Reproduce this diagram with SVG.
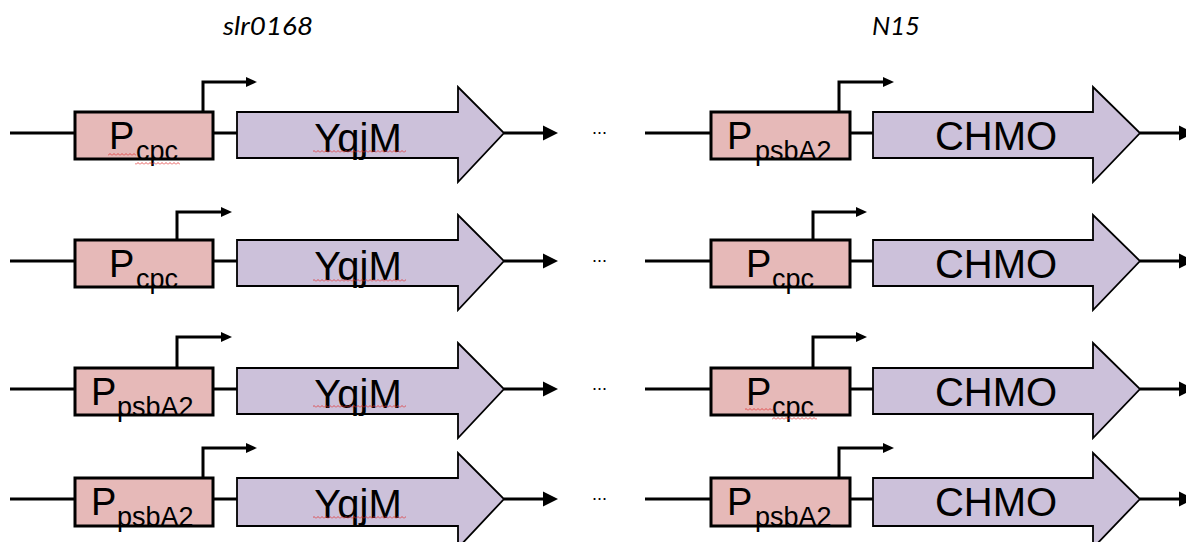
<svg xmlns="http://www.w3.org/2000/svg" width="1186" height="542" viewBox="0 0 1186 542">
<style>
.bb{stroke:#000;stroke-width:3;fill:none}
.pa{stroke:#000;stroke-width:3;fill:none;marker-end:url(#ah)}
.oa{stroke:#000;stroke-width:3;fill:none;marker-end:url(#big)}
.prom{fill:#e6b9b8;stroke:#000;stroke-width:3}
.gene{fill:#ccc1da;stroke:#000;stroke-width:1.8;stroke-linejoin:miter}
.P{font-family:"Liberation Sans",Arial,sans-serif;font-size:38px;fill:#000}
.sub{font-family:"Liberation Sans",Arial,sans-serif;font-size:27px;fill:#000}
.g{font-family:"Liberation Sans",Arial,sans-serif;font-size:40px;fill:#000;text-anchor:middle}
.t{font-family:Lato,"Open Sans",sans-serif;font-style:italic;font-size:26px;fill:#000}
.dots{font-family:"Liberation Sans",Arial,sans-serif;font-size:18px;fill:#000}
.sq{fill:url(#wave)}
</style>
<defs>
<marker id="ah" markerUnits="userSpaceOnUse" markerWidth="14" markerHeight="12" refX="1" refY="0" viewBox="0 -6 14 12" orient="auto"><path d="M0,-5 L11,0 L0,5 z" fill="#000"/></marker>
<marker id="big" markerUnits="userSpaceOnUse" markerWidth="18" markerHeight="18" refX="1" refY="0" viewBox="0 -9 18 18" orient="auto"><path d="M0,-7.5 L15,0 L0,7.5 z" fill="#000"/></marker>
<pattern id="wave" patternUnits="userSpaceOnUse" width="4" height="3"><path d="M0,2.5 L2,0.5 L4,2.5" stroke="#e03030" stroke-width="0.8" fill="none"/></pattern>
</defs>
<rect width="1186" height="542" fill="#fff"/>
<text class="t" x="223" y="35" textLength="90" lengthAdjust="spacingAndGlyphs">slr0168</text>
<text class="t" x="872" y="35" textLength="48" lengthAdjust="spacingAndGlyphs">N15</text>

<g id="connectors">
<!-- row 1 -->
<line class="bb" x1="10" y1="133" x2="75" y2="133"/><line class="bb" x1="213" y1="133" x2="237" y2="133"/>
<line class="oa" x1="504" y1="133" x2="544" y2="133"/>
<path class="pa" d="M203,112 V82 H247"/>
<line class="bb" x1="645" y1="133" x2="711" y2="133"/><line class="bb" x1="850" y1="133" x2="873" y2="133"/>
<line class="oa" x1="1140" y1="133" x2="1180" y2="133"/>
<path class="pa" d="M839,112 V82 H884"/>
<!-- row 2 -->
<line class="bb" x1="10" y1="261" x2="75" y2="261"/><line class="bb" x1="213" y1="261" x2="237" y2="261"/>
<line class="oa" x1="504" y1="261" x2="544" y2="261"/>
<path class="pa" d="M177,240 V212 H222"/>
<line class="bb" x1="645" y1="261" x2="711" y2="261"/><line class="bb" x1="850" y1="261" x2="873" y2="261"/>
<line class="oa" x1="1140" y1="261" x2="1180" y2="261"/>
<path class="pa" d="M813,240 V212 H857"/>
<!-- row 3 -->
<line class="bb" x1="10" y1="389" x2="75" y2="389"/><line class="bb" x1="213" y1="389" x2="237" y2="389"/>
<line class="oa" x1="504" y1="389" x2="544" y2="389"/>
<path class="pa" d="M177,368 V337 H222"/>
<line class="bb" x1="645" y1="389" x2="711" y2="389"/><line class="bb" x1="850" y1="389" x2="873" y2="389"/>
<line class="oa" x1="1140" y1="389" x2="1180" y2="389"/>
<path class="pa" d="M813,368 V337 H857"/>
<!-- row 4 -->
<line class="bb" x1="10" y1="499" x2="75" y2="499"/><line class="bb" x1="213" y1="499" x2="237" y2="499"/>
<line class="oa" x1="504" y1="499" x2="544" y2="499"/>
<path class="pa" d="M203,478 V448 H247"/>
<line class="bb" x1="645" y1="499" x2="711" y2="499"/><line class="bb" x1="850" y1="499" x2="873" y2="499"/>
<line class="oa" x1="1140" y1="499" x2="1180" y2="499"/>
<path class="pa" d="M839,478 V448 H884"/>
</g>

<!-- Row 1 -->
<g id="r1-prom-left"><rect class="prom" x="75" y="112" width="138" height="47"/><text class="P" x="109" y="149">P</text><text class="sub" x="136" y="160">cpc</text><rect class="sq" x="108" y="153" width="28" height="3"/><rect class="sq" x="135" y="162" width="45" height="3"/></g>
<g id="r1-gene-left"><polygon class="gene" points="237,112 458,112 458,87 504,133 458,182 458,158 237,158"/><text class="g" x="358" y="152">YqjM</text><rect class="sq" x="313" y="150" width="93" height="3"/></g>
<g id="r1-dots"><text class="dots" x="592" y="134">...</text></g>
<g id="r1-prom-right"><rect class="prom" x="711" y="112" width="139" height="47"/><text class="P" x="727" y="149">P</text><text class="sub" x="755" y="160">psbA2</text></g>
<g id="r1-gene-right"><polygon class="gene" points="873,112 1093,112 1093,87 1140,133 1093,182 1093,158 873,158"/><text class="g" x="996" y="150">CHMO</text></g>

<!-- Row 2 -->
<g id="r2-prom-left"><rect class="prom" x="75" y="240" width="138" height="47"/><text class="P" x="109" y="277">P</text><text class="sub" x="136" y="288">cpc</text></g>
<g id="r2-gene-left"><polygon class="gene" points="237,240 458,240 458,215 504,261 458,310 458,286 237,286"/><text class="g" x="358" y="280">YqjM</text><rect class="sq" x="313" y="279" width="93" height="3"/></g>
<g id="r2-dots"><text class="dots" x="592" y="262">...</text></g>
<g id="r2-prom-right"><rect class="prom" x="711" y="240" width="139" height="47"/><text class="P" x="746" y="277">P</text><text class="sub" x="772" y="288">cpc</text></g>
<g id="r2-gene-right"><polygon class="gene" points="873,240 1093,240 1093,215 1140,261 1093,310 1093,286 873,286"/><text class="g" x="996" y="278">CHMO</text></g>

<!-- Row 3 -->
<g id="r3-prom-left"><rect class="prom" x="75" y="368" width="138" height="47"/><text class="P" x="91" y="405">P</text><text class="sub" x="117" y="416">psbA2</text></g>
<g id="r3-gene-left"><polygon class="gene" points="237,368 458,368 458,343 504,389 458,438 458,414 237,414"/><text class="g" x="358" y="408">YqjM</text><rect class="sq" x="313" y="405" width="93" height="3"/></g>
<g id="r3-dots"><text class="dots" x="592" y="390">...</text></g>
<g id="r3-prom-right"><rect class="prom" x="711" y="368" width="139" height="47"/><text class="P" x="746" y="405">P</text><text class="sub" x="772" y="416">cpc</text><rect class="sq" x="745" y="408" width="28" height="3"/><rect class="sq" x="772" y="417" width="45" height="3"/></g>
<g id="r3-gene-right"><polygon class="gene" points="873,368 1093,368 1093,343 1140,389 1093,438 1093,414 873,414"/><text class="g" x="996" y="406">CHMO</text></g>

<!-- Row 4 -->
<g id="r4-prom-left"><rect class="prom" x="75" y="478" width="138" height="48"/><text class="P" x="91" y="515">P</text><text class="sub" x="117" y="526">psbA2</text></g>
<g id="r4-gene-left"><polygon class="gene" points="237,478 458,478 458,453 504,499 458,548 458,526 237,526"/><text class="g" x="358" y="518">YqjM</text><rect class="sq" x="313" y="516" width="93" height="3"/></g>
<g id="r4-dots"><text class="dots" x="592" y="500">...</text></g>
<g id="r4-prom-right"><rect class="prom" x="711" y="478" width="139" height="48"/><text class="P" x="727" y="515">P</text><text class="sub" x="755" y="526">psbA2</text></g>
<g id="r4-gene-right"><polygon class="gene" points="873,478 1093,478 1093,453 1140,499 1093,548 1093,526 873,526"/><text class="g" x="996" y="516">CHMO</text></g>
</svg>
